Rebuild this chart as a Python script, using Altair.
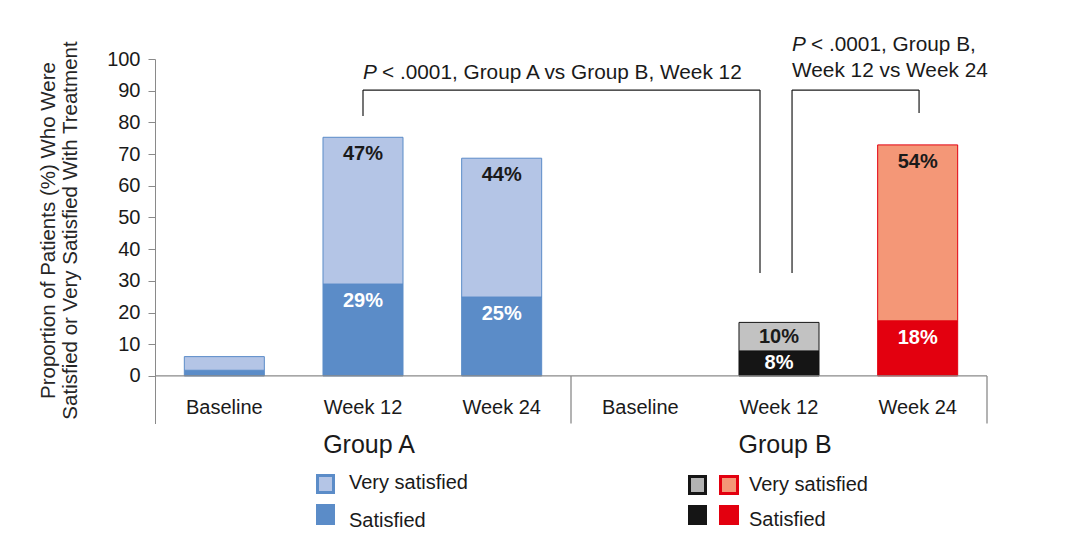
import altair as alt
import pandas as pd

# ---------------- data ----------------
categories = ["Baseline", "Week 12", "Week 24", "Baseline", "Week 12", "Week 24"]
groups = ["Group A", "Group A", "Group A", "Group B", "Group B", "Group B"]
satisfied = [1.8, 29.0, 24.9, 0.0, 7.9, 17.4]
very_satisfied = [4.3, 46.3, 43.8, 0.0, 9.0, 55.5]
satisfied_labels = ["", "29%", "25%", "", "8%", "18%"]
very_satisfied_labels = ["", "47%", "44%", "", "10%", "54%"]
group_names = ["Group A", "Group B"]
y_ticks = [0, 10, 20, 30, 40, 50, 60, 70, 80, 90, 100]

annot_1 = "< .0001, Group A vs Group B, Week 12"
annot_2a = "< .0001, Group B,"
annot_2b = "Week 12 vs Week 24"

FONT = "Liberation Sans"
DARK = "#1a1a1a"
GRAY = "#8a8a8a"
HALF = 0.2885  # half bar width as a fraction of a category step

# ---------------- tables built from the arrays ----------------
rows = []
lab_rows = []
for i, (cat, grp, s, v, sl, vl) in enumerate(zip(categories, groups, satisfied, very_satisfied,
                                                  satisfied_labels, very_satisfied_labels)):
    key = "A" if grp == "Group A" else "B " + cat
    c = i + 0.5
    if s > 0:
        rows.append(dict(x0=c - HALF, x1=c + HALF, y0=0, y1=s, key=key + "|S"))
    if v > 0:
        rows.append(dict(x0=c - HALF, x1=c + HALF, y0=s, y1=s + v, key=key + "|V"))
    if sl:
        lab_rows.append(dict(x=c, y=max(s - 5.3, s / 2), text=sl, seg="S"))
    if vl:
        lab_rows.append(dict(x=c, y=max(s + v - 5.3, s + v / 2), text=vl, seg="V"))
bars = pd.DataFrame(rows)
labs = pd.DataFrame(lab_rows)

cats = pd.DataFrame({"x": [i + 0.5 for i in range(len(categories))], "cat": categories})
grp_df = pd.DataFrame({
    "grp": group_names,
    "x": [sum(i + 0.5 for i, g in enumerate(groups) if g == n) / groups.count(n) for n in group_names],
})
one = pd.DataFrame({"_": [0]})

keys = ["A|S", "A|V", "B Week 12|S", "B Week 12|V", "B Week 24|S", "B Week 24|V"]
fills = ["#5B8CC8", "#B4C5E6", "#151515", "#C2C2C2", "#E3000F", "#F49777"]
strokes = ["#5B8CC8", "#5B8CC8", "#151515", "#151515", "#E3000F", "#E3000F"]

xscale = alt.Scale(domain=[0, 6], nice=False, zero=False)
yscale = alt.Scale(domain=[-15, 100], nice=False, zero=False)

YAXIS = alt.Axis(
    values=y_ticks, grid=False, tickSize=7, tickColor=GRAY,
    domainColor=GRAY, labelFontSize=20, labelColor=DARK, labelPadding=8,
    labelFont=FONT, labelOverlap=False,
    title=["Proportion of Patients (%) Who Were",
           "Satisfied or Very Satisfied With Treatment"],
    titleFontSize=20.5, titleFontWeight="normal", titleColor="#262626",
    titleFont=FONT, titlePadding=26, titleY=171, titleLineHeight=22)


def X(field):
    return alt.X(field, scale=xscale, axis=None)


def Y(field):
    return alt.Y(field, scale=yscale, axis=YAXIS)


def XD(v):
    return alt.XDatum(v, axis=None)


def YD(v):
    return alt.YDatum(v, axis=YAXIS)


bar_layer = alt.Chart(bars).mark_rect(strokeWidth=1).encode(
    x=X("x0:Q"),
    x2="x1:Q",
    y=Y("y0:Q"),
    y2="y1:Q",
    color=alt.Color("key:N", scale=alt.Scale(domain=keys, range=fills), legend=None),
    stroke=alt.Stroke("key:N", scale=alt.Scale(domain=keys, range=strokes), legend=None),
)

lab_v = alt.Chart(labs).transform_filter("datum.seg == 'V'").mark_text(
    fontSize=20, fontWeight="bold", color=DARK, baseline="middle", font=FONT
).encode(x=X("x:Q"), y=Y("y:Q"), text="text:N")
lab_s = alt.Chart(labs).transform_filter("datum.seg == 'S'").mark_text(
    fontSize=20, fontWeight="bold", color="white", baseline="middle", font=FONT
).encode(x=X("x:Q"), y=Y("y:Q"), text="text:N")

# x baseline and separators
base_rule = alt.Chart(one).mark_rule(color=GRAY, strokeWidth=1.3).encode(
    x=XD(0), x2=alt.X2Datum(6), y=YD(0))
sep1 = alt.Chart(one).mark_rule(color=GRAY, strokeWidth=1.3).encode(
    x=XD(3), y=YD(0), y2=alt.Y2Datum(-15))
sep2 = alt.Chart(one).mark_rule(color=GRAY, strokeWidth=1.3).encode(
    x=XD(6), y=YD(0), y2=alt.Y2Datum(-15))

cat_text = alt.Chart(cats).mark_text(fontSize=20, color=DARK, baseline="middle", font=FONT).encode(
    x=X("x:Q"), y=alt.value(349), text="cat:N")
grp_text = alt.Chart(grp_df).mark_text(fontSize=25, color=DARK, baseline="middle", font=FONT, dx=6).encode(
    x=X("x:Q"), y=alt.value(386), text="grp:N")

# significance brackets
BY = 90.2


def seg(x1, x2, y1, y2):
    return alt.Chart(one).mark_rule(color=DARK, strokeWidth=1.2).encode(
        x=XD(x1), x2=alt.X2Datum(x2), y=YD(y1), y2=alt.Y2Datum(y2))


br = [
    seg(1.5, 4.363, BY, BY), seg(1.5, 1.5, BY, 82.0), seg(4.363, 4.363, BY, 32.5),
    seg(4.594, 5.51, BY, BY), seg(4.594, 4.594, BY, 32.5), seg(5.51, 5.51, BY, 83.0),
]

AFS = 20.8


def txt(x, y, s, italic=False, dx=0):
    return alt.Chart(one).mark_text(
        fontSize=AFS, color=DARK, align="left", baseline="middle", font=FONT,
        fontStyle="italic" if italic else "normal", dx=dx, text=s
    ).encode(x=XD(x), y=YD(y))


ann = [
    txt(1.5, 95.6, "P", italic=True), txt(1.5, 95.6, annot_1, dx=19),
    txt(4.594, 104.4, "P", italic=True), txt(4.594, 104.4, annot_2a, dx=19),
    txt(4.594, 96.2, annot_2b),
]


# custom legend
def sq(x1, x2, y1, y2, fill, stroke=None, sw=0):
    kw = dict(fill=fill, strokeWidth=sw)
    if stroke:
        kw["stroke"] = stroke
    return alt.Chart(one).mark_rect(**kw).encode(
        x=alt.value(x1), x2=alt.value(x2), y=alt.value(y1), y2=alt.value(y2))


def ltxt(x, y, s):
    return alt.Chart(one).mark_text(fontSize=20, color=DARK, align="left", baseline="middle",
                                    font=FONT, text=s).encode(x=alt.value(x), y=alt.value(y))


legend = [
    sq(162.5, 178.5, 416.5, 433.5, "#B4C5E6", "#5B8CC8", 3),
    sq(161, 180, 445, 466, "#5B8CC8"),
    ltxt(194, 424, "Very satisfied"), ltxt(194, 462, "Satisfied"),
    sq(534.5, 550.5, 417.5, 434.5, "#B3B3B3", "#151515", 3),
    sq(565.5, 582.5, 417.5, 434.5, "#F49777", "#E3000F", 3),
    sq(533, 552, 446, 466, "#151515"),
    sq(564, 584, 446, 466, "#E3000F"),
    ltxt(594, 426, "Very satisfied"), ltxt(594, 461, "Satisfied"),
]

chart = alt.layer(
    bar_layer, lab_v, lab_s, base_rule, sep1, sep2, cat_text, grp_text, *br, *ann, *legend
).properties(
    width=832, height=364.5,
    autosize=alt.AutoSizeParams(type="none"),
    padding={"left": 147, "top": 51, "right": 60, "bottom": 110},
    background="white",
).configure(font=FONT, view=alt.ViewConfig(strokeWidth=0, strokeOpacity=0))

chart.save("out.html", embed_options={"renderer": "svg", "actions": False})
